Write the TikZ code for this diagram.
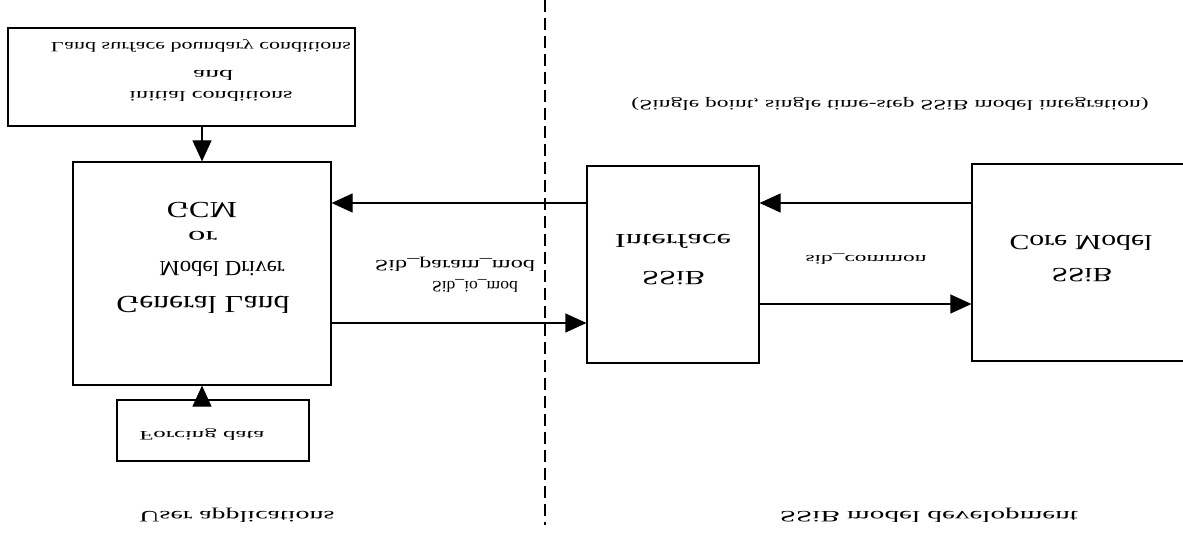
\documentclass[tikz,border=0pt]{standalone}
\usepackage{fontspec}
\setmainfont{Liberation Serif}
\usetikzlibrary{arrows.meta}
\newcommand\fl[3]{\scalebox{1}[-1]{\resizebox{#1}{#2}{\vphantom{Hdgy}#3}}}
\tikzset{
  box/.style={draw, line width=1.2pt, inner sep=0pt, fill=none},
  txt/.style={inner sep=0pt, anchor=center},
  arr/.style={line width=1.2pt, -{Triangle[length=21pt,width=19pt]}},
  divider/.style={line width=1.2pt, dash pattern=on 12pt off 6pt}
}
\begin{document}
\begin{tikzpicture}[x=1pt,y=-1pt]
\useasboundingbox (0,0) rectangle (1183,537);
\clip (0,0) rectangle (1183,537);
% boxes
\node[box, line width=2pt, minimum width=347pt, minimum height=98pt] (top) at (181.5,77) {};
\node[box, minimum width=258pt, minimum height=223pt] (gcm) at (202,273.5) {};
\node[box, line width=1.6pt, minimum width=192pt, minimum height=61pt] (forcing) at (213,430.5) {};
\node[box, minimum width=172pt, minimum height=197pt] (iface) at (673,264.5) {};
\node[box, minimum width=218pt, minimum height=197pt] (core) at (1081,262.5) {};
% divider
\coordinate (d1) at (545,0);
\coordinate (d2) at (545,525);
\draw[divider] (d1) -- (d2);
% levels
\coordinate (r1) at (0,203);
\coordinate (r2) at (0,323);
\coordinate (r3) at (0,304);
% connectors
\draw[arr] (top.south -| gcm.north) -- (gcm.north);
\draw[arr] (forcing.north -| gcm.south) -- (gcm.south);
\draw[arr] (iface.west |- r1) -- (gcm.east |- r1);
\draw[arr] (gcm.east |- r2) -- (iface.west |- r2);
\draw[arr] (core.west |- r1) -- (iface.east |- r1);
\draw[arr] (iface.east |- r3) -- (core.west |- r3);
% texts
\node[txt] (t1) at (201,46) {\fl{300pt}{10pt}{Land surface boundary conditions}};
\node[txt] (t2) at (213,74) {\fl{40pt}{10pt}{and}};
\node[txt] (t3) at (211,95) {\fl{163pt}{10pt}{initial conditions}};
\node[txt] (g1) at (202,208) {\fl{70pt}{16pt}{GCM}};
\node[txt] (g2) at (202.5,236) {\fl{29pt}{13pt}{or}};
\node[txt] (g3) at (222,267) {\fl{125pt}{15pt}{Model Driver}};
\node[txt] (g4) at (203,302) {\fl{173pt}{17pt}{General Land}};
\node[txt] (s1) at (455,264) {\fl{160pt}{11pt}{Sib\_param\_mod}};
\node[txt] (s2) at (475,285) {\fl{86pt}{11pt}{Sib\_io\_mod}};
\node[txt] (i1) at (673,239) {\fl{116pt}{14pt}{Interface}};
\node[txt] (i2) at (673.5,276) {\fl{63pt}{14pt}{SSiB}};
\node[txt] (c1) at (1081,241) {\fl{143pt}{15pt}{Core Model}};
\node[txt] (c2) at (1082,273) {\fl{61pt}{14pt}{SSiB}};
\node[txt] (sc) at (866,259) {\fl{121pt}{9pt}{sib\_common}};
\node[txt] (tr) at (890,104) {\fl{517pt}{10pt}{(Single point, single time-step SSiB model integration)}};
\node[txt] (fd) at (202,435) {\fl{125pt}{9pt}{Forcing data}};
\node[txt] (ua) at (237,515) {\fl{195pt}{11pt}{User applications}};
\node[txt] (sd) at (929,515) {\fl{298pt}{11pt}{SSiB model development}};
\end{tikzpicture}
\end{document}
